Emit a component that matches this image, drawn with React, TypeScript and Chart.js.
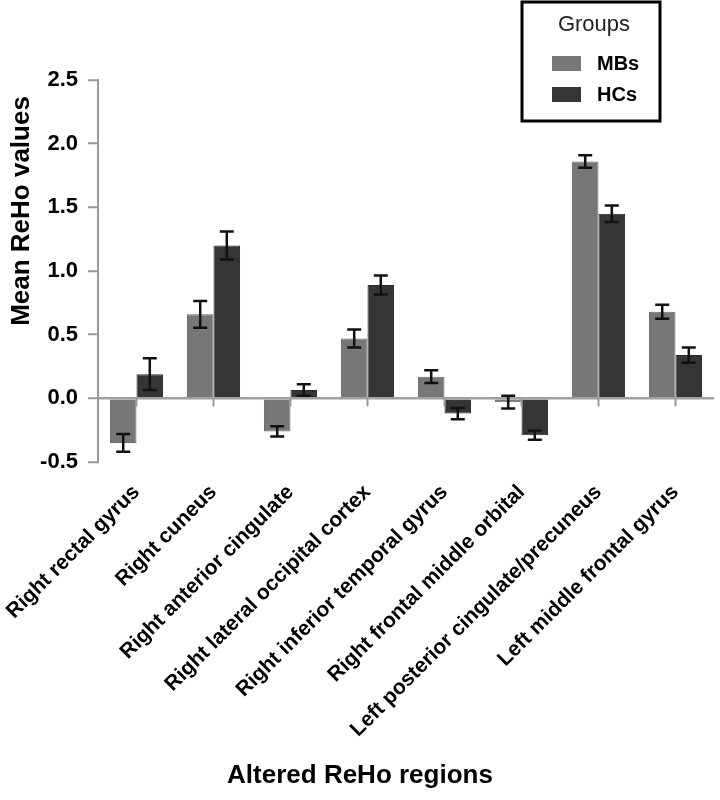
import React, { useEffect, useRef } from "react";
import { Chart, registerables } from "chart.js";

Chart.register(...registerables);

const categories = [
  "Right rectal gyrus",
  "Right cuneus",
  "Right anterior cingulate",
  "Right lateral occipital cortex",
  "Right inferior temporal gyrus",
  "Right frontal middle orbital",
  "Left posterior cingulate/precuneus",
  "Left middle frontal gyrus",
];

const mbsValues = [-0.35, 0.66, -0.26, 0.47, 0.17, -0.03, 1.86, 0.68];
const mbsErrors = [0.07, 0.105, 0.04, 0.07, 0.05, 0.05, 0.05, 0.055];
const hcsValues = [0.19, 1.2, 0.065, 0.89, -0.12, -0.29, 1.45, 0.34];
const hcsErrors = [0.125, 0.11, 0.045, 0.075, 0.045, 0.035, 0.065, 0.06];

const seriesNames = ["MBs", "HCs"];
const seriesColors = ["#777777", "#353535"];

const yMin = -0.5;
const yMax = 2.5;
const yStep = 0.5;

const yTitle = "Mean ReHo values";
const xTitle = "Altered ReHo regions";
const legendTitle = "Groups";

const FONT = "'Liberation Sans', Arial, Helvetica, sans-serif";

const errorArrays = [mbsErrors, hcsErrors];

const errorBarPlugin = {
  id: "errorBars",
  afterDatasetsDraw(chart: any) {
    const ctx = chart.ctx;
    const yScale = chart.scales.y;
    ctx.save();
    ctx.strokeStyle = "#111";
    ctx.lineWidth = 2.5;
    chart.data.datasets.forEach((ds: any, di: number) => {
      const meta = chart.getDatasetMeta(di);
      meta.data.forEach((bar: any, i: number) => {
        const v = ds.data[i];
        const e = errorArrays[di][i];
        const x = bar.x;
        const yTop = yScale.getPixelForValue(v + e);
        const yBot = yScale.getPixelForValue(v - e);
        const cap = 7;
        ctx.beginPath();
        ctx.moveTo(x, yTop);
        ctx.lineTo(x, yBot);
        ctx.moveTo(x - cap, yTop);
        ctx.lineTo(x + cap, yTop);
        ctx.moveTo(x - cap, yBot);
        ctx.lineTo(x + cap, yBot);
        ctx.stroke();
      });
    });
    ctx.restore();
  },
};

const decorPlugin = {
  id: "decor",
  afterDraw(chart: any) {
    const ctx = chart.ctx;
    const xScale = chart.scales.x;
    const yScale = chart.scales.y;
    const y0 = yScale.getPixelForValue(0);
    ctx.save();
    // x tick marks on the zero line
    ctx.strokeStyle = "#999";
    ctx.lineWidth = 2;
    categories.forEach((_, i) => {
      const x = xScale.getPixelForValue(i);
      ctx.beginPath();
      ctx.moveTo(x, y0);
      ctx.lineTo(x, y0 + 8);
      ctx.stroke();
    });
    // y title
    ctx.fillStyle = "#000";
    ctx.font = `bold 26px ${FONT}`;
    ctx.textAlign = "center";
    ctx.textBaseline = "middle";
    ctx.save();
    ctx.translate(22, 211);
    ctx.rotate(-Math.PI / 2);
    ctx.fillText(yTitle, 0, 0);
    ctx.restore();
    // x title
    ctx.fillText(xTitle, 360, 776);
    // legend box
    const bx = 522, by = 2, bw = 138, bh = 119;
    ctx.strokeStyle = "#000";
    ctx.lineWidth = 3;
    ctx.strokeRect(bx, by, bw, bh);
    ctx.font = `22px ${FONT}`;
    ctx.fillStyle = "#222";
    ctx.fillText(legendTitle, 594, 25);
    const rows = [63, 94];
    seriesNames.forEach((name, i) => {
      ctx.fillStyle = seriesColors[i];
      ctx.fillRect(552, rows[i] - 7, 29, 15);
      ctx.fillStyle = "#000";
      ctx.font = `bold 20px ${FONT}`;
      ctx.textAlign = "left";
      ctx.fillText(name, 597, rows[i] + 1);
    });
    ctx.restore();
  },
};

export default function App() {
  const ref = useRef<HTMLCanvasElement | null>(null);
  useEffect(() => {
    if (!ref.current) return;
    const chart = new Chart(ref.current, {
      type: "bar",
      data: {
        labels: categories,
        datasets: [
          {
            label: seriesNames[0],
            data: mbsValues,
            backgroundColor: seriesColors[0],
            borderColor: "#6a6a6a",
            borderWidth: 1,
            categoryPercentage: 0.69,
            barPercentage: 1.0,
          },
          {
            label: seriesNames[1],
            data: hcsValues,
            backgroundColor: seriesColors[1],
            borderColor: "#2a2a2a",
            borderWidth: 1,
            categoryPercentage: 0.69,
            barPercentage: 1.0,
          },
        ],
      },
      options: {
        responsive: false,
        animation: false,
        devicePixelRatio: 1,
        layout: { padding: { top: 80, right: 6, left: 0, bottom: 0 } },
        plugins: {
          legend: { display: false },
          tooltip: { enabled: false },
          title: { display: false },
        },
        scales: {
          x: {
            grid: { display: false, drawTicks: false },
            border: { display: false },
            ticks: {
              autoSkip: false,
              minRotation: 45,
              maxRotation: 45,
              padding: 18,
              color: "#000",
              font: { family: FONT, size: 21, weight: "bold" },
            },
            afterFit(scale: any) {
              scale.height = 338;
              scale.paddingLeft = 0;
              scale.paddingRight = 0;
            },
          },
          y: {
            min: yMin,
            max: yMax,
            ticks: {
              stepSize: yStep,
              padding: 10,
              color: "#000",
              font: { family: FONT, size: 22, weight: "bold" },
              callback: (v: any) => Number(v).toFixed(1),
            },
            grid: {
              color: (c: any) => (c.tick && c.tick.value === 0 ? "#a0a0a0" : "rgba(0,0,0,0)"),
              lineWidth: 2.5,
              tickColor: "#999",
              tickLength: 10,
              tickWidth: 2,
            },
            border: { display: true, color: "#999", width: 2 },
            afterFit(scale: any) {
              scale.width = 98;
            },
          },
        },
      },
      plugins: [errorBarPlugin, decorPlugin],
    });
    return () => chart.destroy();
  }, []);
  return (
    <div style={{ position: "absolute", left: 0, top: 0, width: 720, height: 800, background: "#fff" }}>
      <canvas ref={ref} width={720} height={800} />
    </div>
  );
}
